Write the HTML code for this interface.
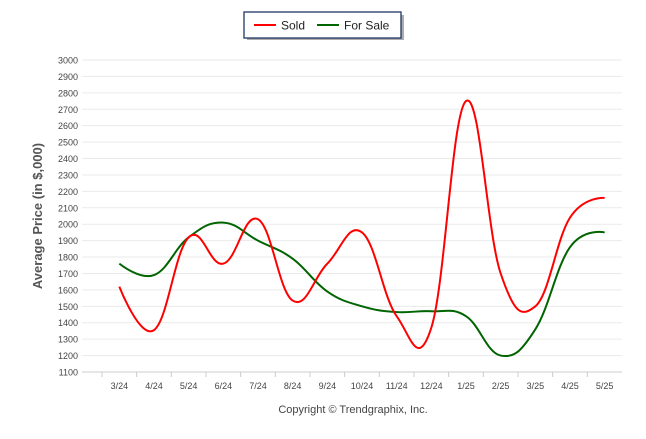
<!DOCTYPE html>
<html><head><meta charset="utf-8"><style>
body{margin:0;background:#fff;font-family:"Liberation Sans",sans-serif}
</style></head><body>
<svg width="646" height="434" id="chart" font-family="Liberation Sans, sans-serif">
<g>
<rect x="247" y="15" width="157" height="25" fill="#333" opacity="0.4"/>
<rect x="244" y="12" width="157" height="26" fill="#fff" stroke="#1f3763" stroke-width="1.3"/>
<line x1="254" y1="25" x2="276" y2="25" stroke="#f00" stroke-width="2"/>
<text x="281" y="29.5" font-size="12" fill="#222">Sold</text>
<line x1="317" y1="25" x2="339" y2="25" stroke="#006400" stroke-width="2"/>
<text x="344" y="29.5" font-size="12" fill="#222">For Sale</text>
</g>
<text transform="translate(42,216) rotate(-90)" text-anchor="middle" font-size="13" font-weight="bold" fill="#555">Average Price (in $,000)</text>
<text x="353" y="413" text-anchor="middle" font-size="11" fill="#444">Copyright © Trendgraphix, Inc.</text>
<g id="grid"></g><g id="axes"></g><g id="series"></g>
</svg>
<script>
const categories=["3/24","4/24","5/24","6/24","7/24","8/24","9/24","10/24","11/24","12/24","1/25","2/25","3/25","4/25","5/25"];
const soldValues=[1620,1355,1920,1760,2030,1535,1760,1950,1440,1370,2750,1700,1500,2040,2160];
const forSaleValues=[1760,1690,1920,2010,1900,1790,1590,1500,1465,1470,1440,1200,1360,1860,1950];
const yTicks=[1100,1200,1300,1400,1500,1600,1700,1800,1900,2000,2100,2200,2300,2400,2500,2600,2700,2800,2900,3000];
const NS="http://www.w3.org/2000/svg";
const x0=102,x1=622,yMin=1100,yMax=3000,yTop=60,yBot=372;
const step=(x1-x0)/categories.length;
const X=i=>x0+step*(i+0.5);
const Y=v=>yBot-(v-yMin)/(yMax-yMin)*(yBot-yTop);
function mk(tag,attrs,parent){const e=document.createElementNS(NS,tag);for(const k in attrs)e.setAttribute(k,attrs[k]);parent.appendChild(e);return e;}
const grid=document.getElementById('grid'),axes=document.getElementById('axes'),series=document.getElementById('series');
yTicks.forEach(t=>{
 const l=mk('line',{x1:x0-20,x2:x1,y1:Y(t),y2:Y(t),stroke:t===yMin?'#ccc':'#eaeaea','stroke-width':1},grid);
 
 
 const tx=mk('text',{x:x0-24,y:Y(t)+3.5,'text-anchor':'end','font-size':9,fill:'#444'},axes);
 tx.textContent=t;
 
 
});
categories.forEach((c,i)=>{
 const tk=mk('line',{x1:x0+step*i,x2:x0+step*i,y1:yBot,y2:yBot+5,stroke:'#ccc'},axes);
 
 
 const tx=mk('text',{x:X(i),y:yBot+17,'text-anchor':'middle','font-size':9,fill:'#444'},axes);
 tx.textContent=c;
 
 
});
function spline(vals){
 const p=vals.map((v,i)=>[X(i),Y(v)]);let d='M'+p[0][0]+','+p[0][1];
 const s=1.5,den=s+1;
 for(let i=1;i<p.length;i++){
  const a=p[i-1],b=p[i];
  let c1=[a[0],a[1]],c2=[b[0],b[1]];
  if(i-2>=0){const pr=p[i-2];const lx=(s*a[0]+b[0])/den,ly=(s*a[1]+b[1])/den,px=(s*a[0]+pr[0])/den,py=(s*a[1]+pr[1])/den;let cr=ly;if(px!==lx)cr=(py-ly)/(px-lx)*(a[0]-px)+py;const dy=a[1]-cr;c1=[lx,ly+dy];}
  if(i+1<p.length){const nx=p[i+1];const lx=(s*b[0]+a[0])/den,ly=(s*b[1]+a[1])/den,rx=(s*b[0]+nx[0])/den,ry=(s*b[1]+nx[1])/den;let cr=ry;if(rx!==lx)cr=(ry-ly)/(rx-lx)*(b[0]-rx)+ry;const dy=b[1]-cr;c2=[lx,ly+dy];}
  d+=' C'+c1[0]+','+c1[1]+' '+c2[0]+','+c2[1]+' '+b[0]+','+b[1];
 }
 return d;
}
const fs=mk('path',{d:spline(forSaleValues),fill:'none',stroke:'#006400','stroke-width':2},series);


const sd=mk('path',{d:spline(soldValues),fill:'none',stroke:'#f00','stroke-width':2},series);


</script>
</body></html>
